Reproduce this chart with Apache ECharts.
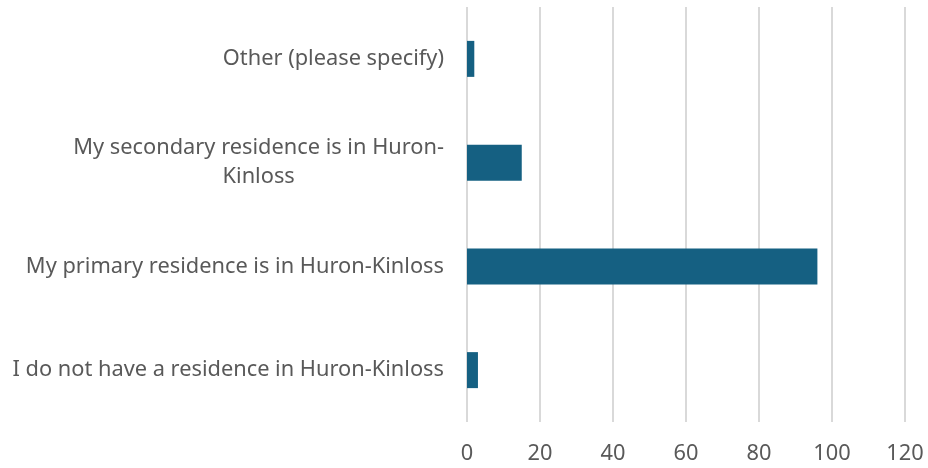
<!DOCTYPE html>
<html>
<head>
<meta charset="utf-8">
<script src="https://cdn.jsdelivr.net/npm/echarts@6/dist/echarts.min.js"></script>
<style>
  html, body { margin: 0; padding: 0; background: #fff; }
  #chart { width: 928px; height: 468px; }
</style>
</head>
<body>
<div id="chart"></div>
<script>
// bottom to top, as on the value axis
const categories = [
  'I do not have a residence in Huron-Kinloss',
  'My primary residence is in Huron-Kinloss',
  'My secondary residence is in Huron-\nKinloss',
  'Other (please specify)'
]
const responses = [3, 96, 15, 2]
const xTicks = [0, 20, 40, 60, 80, 100, 120]

const chart = echarts.init(document.getElementById('chart'))

const textColor = '#595959'
const fontFamily = '"Noto Sans", sans-serif'
const labelSize = 21.8

chart.setOption({
  animation: false,
  grid: { left: 467, right: 23, top: 7, bottom: 46, containLabel: false },
  xAxis: {
    type: 'value',
    min: xTicks[0],
    max: xTicks[xTicks.length - 1],
    interval: xTicks[1] - xTicks[0],
    axisLine: { show: false },
    axisTick: { show: false },
    splitLine: { lineStyle: { color: '#d9d9d9', width: 2 } },
    axisLabel: { color: textColor, fontSize: labelSize, fontFamily, margin: 21 }
  },
  yAxis: {
    type: 'category',
    data: categories,
    axisLine: { show: false },
    axisTick: { show: false },
    axisLabel: {
      color: textColor,
      fontSize: labelSize,
      fontFamily,
      margin: 23,
      lineHeight: 29,
      formatter: (v) => v.split('\n').map(s => '{c|' + s + '}').join('\n'),
      rich: { c: { align: 'center', color: textColor, fontSize: labelSize, fontFamily, lineHeight: 29 } }
    }
  },
  series: [{
    type: 'bar',
    data: responses,
    barWidth: 36,
    itemStyle: { color: '#156082' }
  }]
})
</script>
</body>
</html>
